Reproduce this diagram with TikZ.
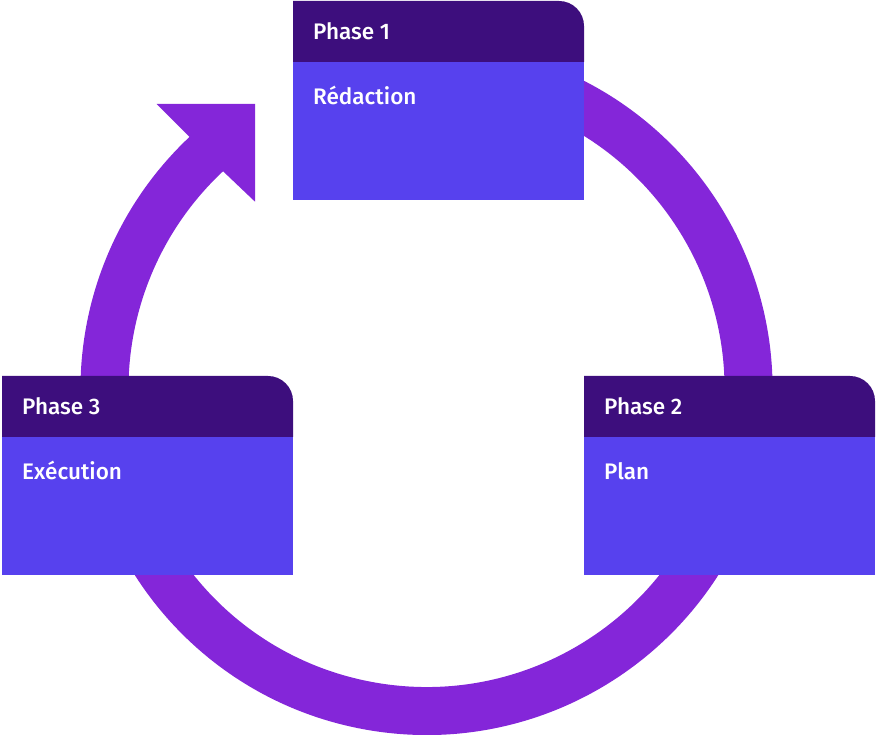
\documentclass[tikz,border=0pt]{standalone}
\usepackage{fontspec}
\setmainfont{Fira Sans}[UprightFont=* Medium]
\definecolor{headc}{HTML}{3D0E7D}
\definecolor{bodyc}{HTML}{5741EE}
\definecolor{ringc}{HTML}{8426D9}
\tikzset{
  headfill/.style={fill=headc},
  bodyfill/.style={fill=bodyc},
  ringline/.style={draw=ringc, line width=48pt, line cap=butt},
  boxtext/.style={text=white, inner sep=0pt, anchor=base west, font=\fontsize{22.5}{27}\selectfont},
}
\newcommand\phasebox[5]{%
  \fill[bodyfill] (#2,#3-61) rectangle ++(291,-138);
  \fill[headfill] (#2,#3-61) -- (#2,#3) [rounded corners=25pt] -- (#2+291,#3) [sharp corners] -- (#2+291,#3-61) -- cycle;
  \node[boxtext] (#1t) at (#2+20,#3-38.5) {#4};
  \node[boxtext] (#1b) at (#2+20,#3-104) {#5};
}
\begin{document}
\begin{tikzpicture}[x=1pt,y=1pt]
\useasboundingbox (0,0) rectangle (877,735);
\coordinate (c) at (426.5,346);
% ring
\draw[ringline] (c) ++(80:322pt) arc[start angle=80, end angle=-228.5, radius=322pt];
% arrowhead
\fill[ringc] (187.7,600) -- (156.7,631) -- (255,631) -- (255,533.3) -- (221.7,565) -- cycle;
% boxes
\phasebox{p1}{293}{734}{Phase 1}{Rédaction}
\phasebox{p2}{584}{359}{Phase 2}{Plan}
\phasebox{p3}{2}{359}{Phase 3}{Exécution}
\end{tikzpicture}
\end{document}
